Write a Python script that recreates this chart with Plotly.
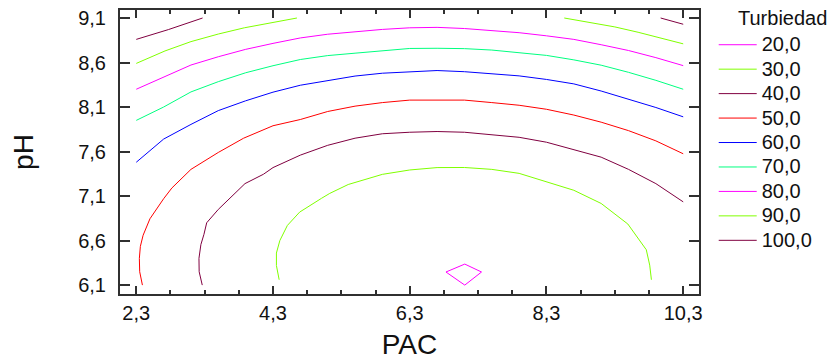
import plotly.graph_objects as go

# ---- data (PAC, pH) along each contour of Turbiedad ----
level_names = ["20,0", "30,0", "40,0", "50,0", "60,0", "70,0", "80,0", "90,0", "100,0"]

pac_20 = [6.83, 7.105, 7.35, 7.105, 6.83]
ph_20 = [6.247, 6.336, 6.247, 6.10, 6.247]

pac_30 = [4.39, 4.35, 4.35, 4.40, 4.51, 4.69, 5.01, 5.13, 5.40, 5.90, 6.30, 6.70, 7.10, 7.50,
          7.90, 8.30, 8.70, 9.10, 9.49, 9.76, 9.81, 9.835]
ph_30 = [6.16, 6.32, 6.46, 6.60, 6.77, 6.92, 7.075, 7.13, 7.23, 7.344, 7.393, 7.42, 7.421, 7.40,
         7.355, 7.26, 7.165, 7.017, 6.786, 6.497, 6.324, 6.16]

pac_40 = [3.265, 3.22, 3.217, 3.245, 3.29, 3.33, 3.50, 3.70, 3.89, 4.16, 4.30, 4.70, 5.10, 5.50,
          5.90, 6.30, 6.70, 7.10, 7.50, 7.90, 8.30, 8.70, 9.10, 9.50, 9.90, 10.30]
ph_40 = [6.10, 6.25, 6.40, 6.555, 6.67, 6.80, 6.95, 7.10, 7.24, 7.345, 7.42, 7.56, 7.67, 7.75,
         7.80, 7.817, 7.825, 7.817, 7.79, 7.76, 7.705, 7.625, 7.537, 7.40, 7.24, 7.035]

pac_50 = [2.39, 2.35, 2.345, 2.36, 2.40, 2.50, 2.70, 2.82, 3.10, 3.50, 3.87, 4.30, 4.70, 5.10,
          5.50, 5.90, 6.30, 6.70, 7.10, 7.50, 7.90, 8.30, 8.70, 9.10, 9.50, 9.90, 10.30]
ph_50 = [6.10, 6.25, 6.40, 6.535, 6.66, 6.845, 7.07, 7.19, 7.40, 7.59, 7.75, 7.89, 7.96, 8.05,
         8.11, 8.15, 8.178, 8.18, 8.178, 8.15, 8.12, 8.075, 8.01, 7.93, 7.835, 7.72, 7.575]

pac_grid = [2.3, 2.7, 3.1, 3.5, 3.9, 4.3, 4.7, 5.1, 5.5, 5.9, 6.3, 6.7, 7.1, 7.5, 7.9, 8.3,
            8.7, 9.1, 9.5, 9.9, 10.3]
ph_60 = [7.48, 7.74, 7.905, 8.06, 8.17, 8.267, 8.345, 8.40, 8.448, 8.48, 8.498, 8.51, 8.497,
         8.475, 8.45, 8.41, 8.36, 8.28, 8.185, 8.095, 7.99]
ph_70 = [7.95, 8.10, 8.27, 8.385, 8.485, 8.564, 8.634, 8.678, 8.705, 8.735, 8.758, 8.76, 8.756,
         8.74, 8.712, 8.68, 8.63, 8.57, 8.49, 8.40, 8.30]
ph_80 = [8.30, 8.44, 8.572, 8.665, 8.748, 8.815, 8.876, 8.918, 8.948, 8.972, 8.99, 8.995, 8.982,
         8.96, 8.935, 8.90, 8.86, 8.80, 8.735, 8.655, 8.565]

# 90 and 100 each appear as two pieces (top-left and top-right); None splits them
pac_90 = [2.30, 2.72, 3.10, 3.50, 3.88, 4.27, 4.65, None, 8.56, 8.91, 9.30, 9.64, 9.98, 10.30]
ph_90 = [8.59, 8.73, 8.835, 8.92, 8.99, 9.05, 9.10, None, 9.10, 9.055, 9.00, 8.94, 8.875, 8.81]

pac_100 = [2.30, 2.77, 3.27, None, 9.97, 10.30]
ph_100 = [8.86, 8.97, 9.10, None, 9.10, 9.03]

x_ticks = [2.3, 4.3, 6.3, 8.3, 10.3]
y_ticks = [6.1, 6.6, 7.1, 7.6, 8.1, 8.6, 9.1]

legend_title = "Turbiedad"

# ---- styling ----
line_colors = ["#FF00FF", "#80FF00", "#800040", "#FF0000", "#0000FF",
               "#00FF80", "#FF00FF", "#80FF00", "#800040"]
FONT = "Liberation Sans, Arial, sans-serif"
TXT = "#111111"

series = [
    (pac_20, ph_20), (pac_30, ph_30), (pac_40, ph_40), (pac_50, ph_50),
    (pac_grid, ph_60), (pac_grid, ph_70), (pac_grid, ph_80),
    (pac_90, ph_90), (pac_100, ph_100),
]

fig = go.Figure()
for name, (xs, ys), col in zip(level_names, series, line_colors):
    fig.add_trace(go.Scatter(
        x=xs, y=ys, mode="lines",
        name="<span style='font-size:20px'>%s</span>" % name,
        line=dict(color=col, width=1),
        connectgaps=False, hoverinfo="skip",
    ))

axis_common = dict(
    showgrid=False, zeroline=False, showline=True, linecolor="#303030", linewidth=2,
    mirror="allticks", ticks="inside", tickcolor="#303030", tickwidth=1.5,
    tickfont=dict(family=FONT, size=20, color=TXT),
    tickformat=".1f", automargin=False, ticklabeloverflow="allow",
)

# the page adds an 8px body margin, so the figure is 8px smaller and margins shifted
fig.update_layout(
    width=829, height=352,
    margin=dict(l=112, r=138, t=2, b=66, autoexpand=False),
    paper_bgcolor="white", plot_bgcolor="white",
    separators=", ",
    showlegend=True,
    legend=dict(
        font=dict(family=FONT, size=16.5, color=TXT),
        x=1.0254, xanchor="left", y=0.9384, yanchor="top",
        itemwidth=38,
        bgcolor="rgba(0,0,0,0)", tracegroupgap=0,
    ),
    annotations=[dict(
        text=legend_title, xref="paper", yref="paper", x=1.1445, y=0.971,
        xanchor="center", yanchor="middle", showarrow=False,
        font=dict(family=FONT, size=20, color=TXT),
    )],
    xaxis=dict(
        range=[2.062, 10.531], tickvals=x_ticks, ticklen=8,
        minor=dict(ticks="inside", ticklen=4, tick0=2.3, dtick=0.5,
                   tickcolor="#303030", showgrid=False),
        title=dict(text="PAC", font=dict(family=FONT, size=28, color=TXT), standoff=20),
        **axis_common,
    ),
    yaxis=dict(
        range=[6.0, 9.19], tickvals=y_ticks, ticklen=10, ticklabelstandoff=8,
        title=dict(text="pH", font=dict(family=FONT, size=28, color=TXT), standoff=37),
        **axis_common,
    ),
)

fig.write_html("out.html")
